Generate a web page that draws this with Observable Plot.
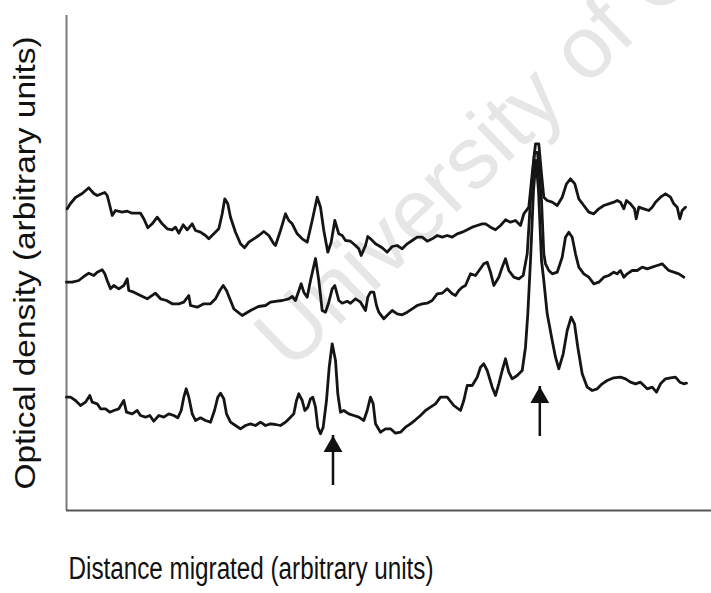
<!DOCTYPE html>
<html>
<head>
<meta charset="utf-8">
<script src="https://cdn.jsdelivr.net/npm/d3@7"></script>
<script src="https://cdn.jsdelivr.net/npm/@observablehq/plot@0.6"></script>
<style>
  body { margin: 0; background: #fff; }
  #chart { width: 711px; height: 593px; }
</style>
</head>
<body>
<div id="chart"></div>
<script>
// Densitometry traces: [distance migrated, optical density] in arbitrary units
const traceTop = [
  [0.7,301.7],[4,307],[9,313],[15.7,317],[22.3,322.7],[27.3,317],[30.7,315],[35.7,317],[38.3,318],[40.7,315],
  [43.3,305],[45.7,295],[49,300],[55.7,298.3],[60.7,299.3],[65.7,297.3],[74,297.3],[77.3,291.7],[81.3,282.7],[85.7,286.7],
  [90.7,293.3],[95.7,286.7],[100.7,281.7],[105.7,280.7],[109,283.3],[112.3,277.3],[116.7,285.7],[120.7,280.7],[125.7,286.7],[129,280],
  [134,278.3],[139,275],[142.3,271.7],[147.3,276.7],[152.3,281.7],[155.7,296.7],[158.3,311.7],[161.3,306.7],[164,293.3],[169,278.3],
  [174,266.7],[178,262.7],[182.3,268.3],[187.3,271.7],[192.3,275],[197.3,279],[202.3,275],[207.3,266.7],[209,265],[214,280],
  [219,296.7],[222.3,290],[225.7,286.7],[230.7,276.7],[235.7,271.7],[240.7,268.3],[245.7,290],[250.7,313.3],[254,303.3],[257.3,280],
  [261.3,258.3],[264.7,268.3],[268.3,290],[272.3,276.7],[275.7,275],[279,270],[284,269.3],[289,265],[292.3,261.7],[294.7,255],
  [299,265],[301.3,274],[304,271.7],[309,266.7],[315.7,262.7],[320.7,258.3],[325.7,264],[330.7,265],[335.7,261.7],[340.7,266.7],
  [345.7,270],[350.7,273.3],[355.7,273.3],[360.7,269.3],[365.7,271.7],[370.7,275],[375.7,273.3],[380.7,275],[385.7,273.3],[390.7,276.7],
  [395.7,278.3],[400.7,280.7],[405.7,283.3],[410.7,285],[415.7,286.7],[419,286.7],[424,283.3],[429,280.7],[434,285],[439,290.7],
  [444,288.3],[449,290],[454,285],[457.3,296.7],[462.3,303.3],[465.7,336.7],[469,366.7],[472.3,366.7],[475,336.7],[477.3,313.3],
  [480.7,310],[485.7,308.3],[490.7,305],[495.7,313.3],[500,326.7],[504,331.7],[508.3,326.7],[512.3,311.7],[517.3,305],[522.3,298.3],
  [527.3,296.7],[532.3,301.7],[537.3,305],[542.3,306.7],[547.3,308.3],[550.7,310],[554,308.3],[557.3,301.7],[560,310],[564,306.7],
  [568,301.7],[569.7,291.7],[572.3,303.3],[577.3,301.7],[582.3,300],[585.7,303.3],[589,308.3],[594,313.3],[599,316.7],[604,313.3],
  [607.3,306.7],[610.7,303.3],[613.3,291.7],[615.7,300],[619,303.3]
];
const traceMiddle = [
  [0,228.3],[5.7,228.3],[12.3,230],[17.3,234],[22.3,237.3],[27.3,235],[30.7,238.3],[35.7,240.7],[38.3,236.7],[40.7,230],
  [44,221.7],[47.3,225],[52.3,221.7],[57.3,225],[60.7,231.7],[62.3,220],[67.3,218.3],[74,215],[80.7,211.7],[89,217.3],
  [94,211.7],[100,210],[105.7,206.7],[112.3,206.7],[117.3,208.3],[122.3,215],[124,205],[130.7,203.3],[137.3,206.7],[144,206.7],
  [149,211.7],[153.3,220],[156.7,225],[160,220],[164,210],[167.3,201.7],[175.7,195],[184,200],[192,204],[199,205],
  [204,208.3],[210.7,209.3],[215.7,210],[222.3,211.7],[225.7,214],[229,210],[234.7,226.7],[237.3,218.3],[240.7,213.3],[244,230],
  [249,252],[252.3,230],[255.7,200],[259,198.3],[262.3,208.3],[265.7,221.7],[268.3,225],[272.3,210],[275.7,207.3],[280.7,209.3],
  [284,207.3],[289,211.7],[294,208.3],[299,200],[301.3,213.3],[304,218.3],[307.3,218.3],[310,205],[312.3,198.3],[317.3,191.7],
  [322.3,196.7],[325.7,200],[330.7,196.7],[335.7,195.7],[340.7,198.3],[345.7,201.7],[350.7,205],[355.7,206.7],[360.7,207.3],[365.7,210],
  [370.7,216.7],[375.7,217.3],[380.7,221.7],[385.7,216.7],[389,215],[392.3,220],[395.7,223.3],[399,225],[404,236.7],[409,235],
  [414,242],[417.3,246.7],[420.7,248.3],[424,238.3],[427.3,225],[432.3,233.3],[435.7,243.3],[439,251.7],[442.3,240],[447.3,233.3],
  [452.3,231.7],[456.7,235],[460.7,256.7],[464,310],[468,358],[471,358],[475,310],[477.3,256.7],[479,246.7],[482.3,240],
  [485.7,236.7],[490.7,238.3],[495.7,253.3],[499,273.3],[502.3,278.3],[505.7,273.3],[509,256.7],[512.3,243.3],[517.3,236.7],[522.3,233.3],
  [527.3,226.7],[532.3,228.3],[537.3,233.3],[542.3,235],[547.3,238.3],[550.7,236.7],[554,240],[557.3,233.3],[560.7,236.7],[565.7,240],
  [570.7,240],[575.7,243.3],[580.7,241.7],[585.7,243.3],[590.7,245],[595.7,246.7],[599,243.3],[602.3,240],[607.3,238.3],[612.3,236.7],
  [617.3,233.3]
];
const traceBottom = [
  [0,113.3],[4,113.3],[9,110],[14,105],[19,108.3],[23.3,115],[25.7,108.3],[30.7,106.7],[34,101.7],[39,101.7],
  [43.3,98.3],[47.3,100],[52.3,101.7],[57.3,110],[60,98.3],[65.7,96.7],[70.7,100],[74,95],[79,93.3],[83.3,95],
  [87.3,89.3],[92.3,95],[97.3,93.3],[102.3,96.7],[107.3,95],[111.3,92.7],[114.7,100],[117.3,113.3],[119.7,121.7],[122.3,113.3],
  [125.7,96.7],[129,90],[134,92.7],[139,90],[144,88.3],[148,100],[151.3,113.3],[154,117.3],[157.3,111.7],[160,96.7],
  [164,88.3],[169,85],[174,81.7],[179,85],[184,86.7],[189,85],[194,88.3],[199,85],[204,86.7],[209,86],
  [214,85],[219,88.3],[224,93.3],[227.3,96.7],[230,110],[232.3,116.7],[235.7,110],[238.3,100],[241.3,103.3],[244,111.7],
  [246.3,113.3],[249,103.3],[251.3,83.3],[254,76.7],[256.7,83.3],[260,110],[262.7,143.3],[265.7,166.7],[269,150],[271.3,116.7],
  [274,98.3],[277.3,100],[282.3,96.7],[287.3,95],[292.3,93.3],[297.3,90],[300.7,100],[304,113.3],[306.7,106.7],[309,86.7],
  [314,78.3],[319,81.7],[324,81.7],[329,77.3],[334,78.3],[339,83.3],[344,86.7],[349,90.7],[354,95],[359,100],
  [364,103.3],[369,106.7],[374,113.3],[380.7,113.3],[387.3,105],[394,100],[397.3,110],[400.7,125],[405.7,125],[410.7,133.3],
  [414,143.3],[417.3,146.7],[420.7,140],[425.7,123.3],[429,115],[432.3,126.7],[435.7,140],[439,151.7],[442.3,138.3],[445.7,131.7],
  [450.7,135],[455.7,140],[459,163.3],[461.3,196.7],[464,250],[467,320],[469.5,350],[472,320],[475,250],[477.3,230],
  [480.7,196.7],[485.7,170],[489,153.3],[492.3,141.7],[496.7,156.7],[500.7,180],[504.7,193.3],[508,186.7],[511.3,163.3],[515.7,136.7],
  [520.7,123.3],[525.7,120],[530.7,121.7],[535.7,126.7],[540.7,130],[547.3,132.7],[554,133.3],[559,131.7],[564,128.3],[569,126.7],
  [574,128.3],[580.7,121.7],[585.7,123.3],[590,118.3],[594,126.7],[599,131.7],[604,132.7],[609,133.3],[613.3,128.3],[617.3,126.7],
  [620,127.3]
];

// Arrows marking bands (distance, arrow tip density, arrow tail density)
const arrowDistance = [266.5, 473.3];
const arrowTip = [75, 124];
const arrowTail = [25, 74];

// Text
const xLabel = "Distance migrated (arbitrary units)";
const yLabel = "Optical density (arbitrary units)";
const watermark = "University of Cape Town";

const arrows = arrowDistance.map((d, i) => ({distance: d, tip: arrowTip[i], tail: arrowTail[i]}));
const traces = [traceTop, traceMiddle, traceBottom];

const chart = Plot.plot({
  width: 711,
  height: 593,
  marginLeft: 66,
  marginRight: 0,
  marginTop: 15,
  marginBottom: 83,
  x: {domain: [0, 645], axis: null},
  y: {domain: [0, 495], axis: null},
  style: {background: "#fff", fontFamily: "'Liberation Sans', Arial, sans-serif", color: "#111"},
  marks: [
    Plot.text([watermark], {
      frameAnchor: "top-left", dx: 224, dy: 357, rotate: -44,
      textAnchor: "start", lineAnchor: "bottom",
      fontSize: 88, fill: "#e6e6e6", text: d => d
    }),
    Plot.ruleX([0], {stroke: "#7a7a7a", strokeWidth: 2}),
    Plot.ruleY([0], {stroke: "#555", strokeWidth: 2}),
    ...traces.map(t => Plot.line(t, {
      x: d => d[0], y: d => d[1],
      stroke: "#151515", strokeWidth: 2.8, strokeLinejoin: "round", strokeLinecap: "round"
    })),
    Plot.ruleX(arrows, {x: "distance", y1: "tail", y2: "tip", stroke: "#111", strokeWidth: 2.5}),
    Plot.dot(arrows, {x: "distance", y: "tip", symbol: "triangle", r: 7, dy: 11, fill: "#111", stroke: "none"}),
    Plot.text([xLabel], {
      frameAnchor: "bottom-left", dx: 2, dy: 68, textAnchor: "start",
      fontSize: 31, fill: "#111", text: d => d
    }),
    Plot.text([yLabel], {
      frameAnchor: "left", dx: -41, dy: 0, rotate: -90, textAnchor: "middle",
      fontSize: 29, fill: "#111", text: d => d
    })
  ]
});

d3.select(chart).selectAll("text")
  .filter(function() { return this.textContent === xLabel; })
  .attr("textLength", 365).attr("lengthAdjust", "spacingAndGlyphs");
d3.select(chart).selectAll("text")
  .filter(function() { return this.textContent === yLabel; })
  .attr("textLength", 453).attr("lengthAdjust", "spacingAndGlyphs");

document.getElementById("chart").append(chart);
</script>
</body>
</html>
